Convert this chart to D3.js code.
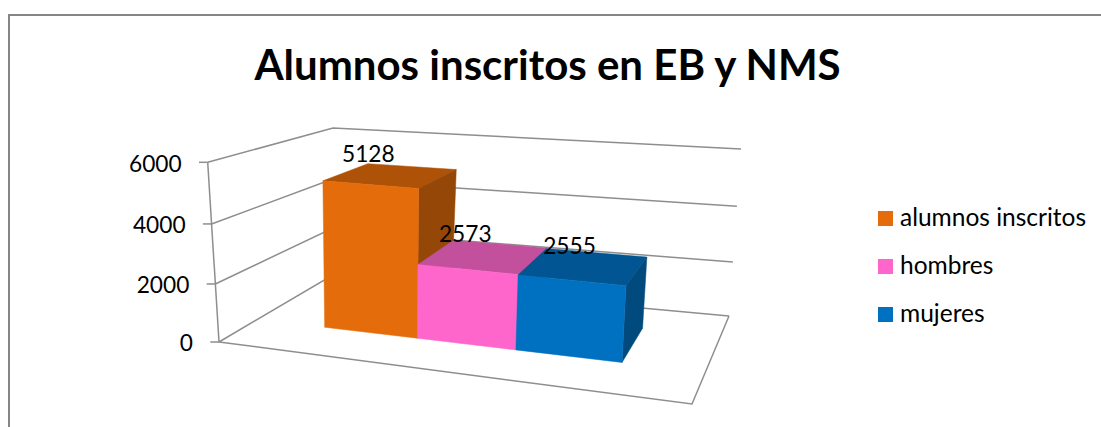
<!DOCTYPE html>
<html><head><meta charset="utf-8">
<script src="https://cdnjs.cloudflare.com/ajax/libs/d3/7.8.5/d3.min.js"></script>
<style>html,body{margin:0;padding:0;background:#fff}svg{display:block}text{font-family:Lato,"Open Sans",sans-serif;fill:#000}</style>
</head><body><svg id="c" width="1101" height="427"></svg>
<script>
const title = "Alumnos inscritos en EB y NMS";
const categories = ["alumnos inscritos", "hombres", "mujeres"];
const values = [5128, 2573, 2555];
const tickValues = [0, 2000, 4000, 6000];
const frontColors = ["#E46C0A", "#FF66CC", "#0070C0"];
const topColors = ["#AE5207", "#C2509C", "#005592"];
const sideColors = ["#944706", "#A8438A", "#004A7E"];

const svg = d3.select("#c");
const grid = "#8E8E8E";

// Cube corners of the pseudo-3D plot box
const box = {
  A:[219,342], B:[692,404], C:[326,279], D:[729,316],
  E:[207.7,162.3], H:[705,204], F:[333,128], G:[741,149]
};
const mix = (a,b,t)=>[a[0]+(b[0]-a[0])*t, a[1]+(b[1]-a[1])*t];
const yScale = d3.scaleLinear().domain(tickValues).range([0,0.323,0.657,1]);
// Category boundaries across the floor (slightly widening toward the viewer)
const uScale = d3.scaleLinear().domain([0,1,2,3]).range([0.15,0.357,0.577,0.814]);
const dFront = 0.36, dBack = 0.77;
function project(u,d,value){
  const v = yScale(value);
  const bottom = mix(mix(box.A,box.B,u), mix(box.C,box.D,u), d);
  const top = mix(mix(box.E,box.H,u), mix(box.F,box.G,u), d);
  return mix(bottom,top,v);
}
const line = d3.line();
const gLines = svg.append("g").attr("fill","none").attr("stroke",grid).attr("stroke-width",1.5);

// chart frame
svg.append("path").attr("d",line([[9,427],[9,15],[1101,15]]))
  .attr("fill","none").attr("stroke","#868686").attr("stroke-width",2);

// gridlines on side wall and back wall
tickValues.forEach(t=>{
  gLines.append("path").attr("d",line([project(0,0,t),project(0,1,t),project(1,1,t)]));
  const p = project(0,0,t);
  gLines.append("path").attr("d",line([[p[0]-8.7,p[1]],p]));
});
// vertical axis and floor outline
gLines.append("path").attr("d",line([project(0,0,0),project(0,0,6000)]));
gLines.append("path").attr("d",line([project(0,0,0),project(1,0,0),project(1,1,0)]));

// tick labels
svg.append("g").selectAll("text").data(tickValues).join("text")
  .attr("x",t=>project(0,0,t)[0]-26)
  .attr("y",t=>project(0,0,t)[1]+9.2)
  .attr("text-anchor","end").attr("font-size",22.7).text(d=>d);

// bars back to front
const bars = svg.append("g");
categories.forEach((c,i)=>{
  const u0=uScale(i), u1=uScale(i+1), val=values[i];
  const poly=(pts,col)=>bars.append("path").attr("d",line(pts)+"Z").attr("fill",col).attr("stroke",col).attr("stroke-width",0.5);
  poly([project(u0,dFront,val),project(u1,dFront,val),project(u1,dBack,val),project(u0,dBack,val)],topColors[i]);
  poly([project(u1,dFront,0),project(u1,dFront,val),project(u1,dBack,val),project(u1,dBack,0)],sideColors[i]);
  poly([project(u0,dFront,0),project(u1,dFront,0),project(u1,dFront,val),project(u0,dFront,val)],frontColors[i]);
});

// data labels
svg.append("g").selectAll("text").data(values).join("text")
  .attr("text-anchor","middle").attr("font-size",22.7)
  .attr("x",(d,i)=>project(uScale(i),dBack,d)[0]+0.5+11.2*i)
  .attr("y",(d,i)=>project(uScale(i),dBack,d)[1]-2+3.5*i)
  .text(d=>d);

// title
svg.append("text").attr("x",547.5).attr("y",80).attr("text-anchor","middle")
  .attr("font-size",42).attr("font-weight",700).text(title);

// legend
const legendY = d3.scalePoint().domain(categories).range([211,307]);
const lg = svg.append("g").selectAll("g").data(categories).join("g")
  .attr("transform",d=>`translate(878,${legendY(d)})`);
lg.append("rect").attr("width",15).attr("height",15).attr("fill",(d,i)=>frontColors[i]);
lg.append("text").attr("x",22).attr("y",14.7).attr("font-size",24.5).text(d=>d);
</script></body></html>
